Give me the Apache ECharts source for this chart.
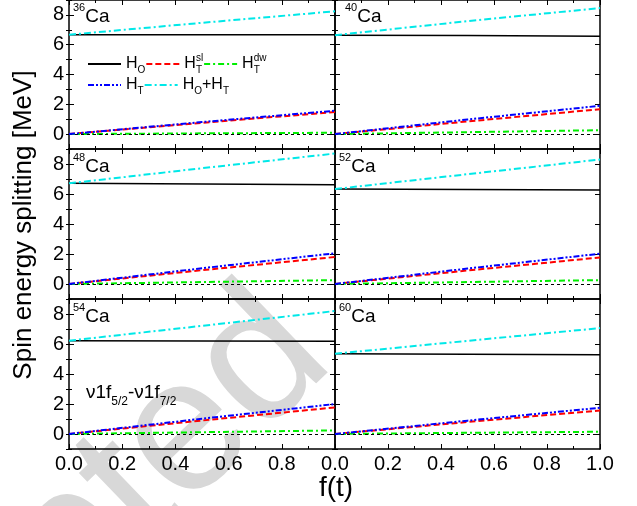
<!DOCTYPE html>
<html>
<head>
<meta charset="utf-8">
<script src="https://cdn.jsdelivr.net/npm/echarts@6/dist/echarts.min.js"></script>
<style>
  html, body { margin: 0; padding: 0; background: #fff; }
  #chart { width: 637px; height: 506px; }
</style>
</head>
<body>
<div id="chart"></div>
<script>
// f(t) sample points shared by every curve
const fValues = [0, 0.5, 1.0];

// nuclei, one per panel (left-to-right, top-to-bottom)
const nuclei = ['36', '40', '48', '52', '54', '60'];

// spin energy splitting [MeV] for each panel, sampled at fValues
const hO = [
  [6.67, 6.67, 6.66],
  [6.64, 6.61, 6.57],
  [6.71, 6.67, 6.62],
  [6.33, 6.30, 6.27],
  [6.22, 6.20, 6.18],
  [5.35, 5.32, 5.29]
];
const hTsl = [
  [0, 0.76, 1.48],
  [0, 0.85, 1.67],
  [0, 0.92, 1.80],
  [0, 0.90, 1.77],
  [0, 0.90, 1.77],
  [0, 0.80, 1.57]
];
const hTdw = [
  [0, 0.05, 0.09],
  [0, 0.13, 0.26],
  [0, 0.13, 0.26],
  [0, 0.13, 0.26],
  [0, 0.12, 0.24],
  [0, 0.08, 0.15]
];
const hT = [
  [0, 0.81, 1.57],
  [0, 0.98, 1.90],
  [0, 1.05, 2.05],
  [0, 1.03, 2.02],
  [0, 1.02, 2.00],
  [0, 0.89, 1.75]
];
const hOplusT = [
  [6.67, 7.47, 8.24],
  [6.64, 7.58, 8.46],
  [6.71, 7.72, 8.70],
  [6.33, 7.32, 8.30],
  [6.22, 7.21, 8.20],
  [5.35, 6.21, 7.06]
];

// axis ticks
const yMajorTicks = [0, 2, 4, 6, 8];

const FONT = '"Liberation Sans", Arial, Helvetica, sans-serif';
const BLACK = '#000';

// panel geometry
const colLeft = [69, 335];
const colWidth = [266, 265];
const rowTop = [-1, 149, 299];
const rowHeight = 150;

// curve styles
const curves = [
  { name: 'HO',   data: hO,      color: '#000000', width: 1.5, dash: 'solid' },
  { name: 'HTsl', data: hTsl,    color: '#ff0000', width: 2,   dash: [6, 3] },
  { name: 'HTdw', data: hTdw,    color: '#00ee00', width: 2,   dash: [6, 3, 2, 3] },
  { name: 'HT',   data: hT,      color: '#0000ff', width: 2,   dash: [6, 2, 2, 2, 2, 2] },
  { name: 'HOHT', data: hOplusT, color: '#00e8e8', width: 2,   dash: [7, 3, 2, 3] }
];

const grids = [], xAxes = [], yAxes = [], series = [], graphics = [];

nuclei.forEach((nuc, i) => {
  const row = Math.floor(i / 2), col = i % 2;
  grids.push({ left: colLeft[col], top: rowTop[row], width: colWidth[col], height: rowHeight });

  const axisLine = { onZero: false, lineStyle: { color: BLACK, width: 1.5 } };
  const xBase = {
    gridIndex: i, type: 'value', min: 0, max: 1, interval: 0.2,
    splitLine: { show: false },
    axisLine: axisLine,
    axisTick: { inside: true, length: 5, lineStyle: { color: BLACK, width: 1 } },
    minorTick: { show: true, splitNumber: 2, length: 3, lineStyle: { color: BLACK, width: 1 } },
    minorSplitLine: { show: false }
  };
  xAxes.push(Object.assign({}, xBase, {
    position: 'bottom',
    axisLabel: {
      show: row === 2, fontSize: 20, color: BLACK, fontFamily: FONT, margin: 5,
      showMaxLabel: col === 1,
      formatter: v => v.toFixed(1)
    }
  }));
  xAxes.push(Object.assign({}, xBase, { position: 'top', axisLabel: { show: false } }));

  const yMajor = (pos, labels) => ({
    gridIndex: i, type: 'value', min: -1, max: 9, position: pos,
    splitLine: { show: false },
    axisLine: axisLine,
    axisTick: { inside: true, length: 5, customValues: yMajorTicks, lineStyle: { color: BLACK, width: 1 } },
    axisLabel: { show: labels, customValues: yMajorTicks, fontSize: 20, color: BLACK, fontFamily: FONT, margin: 5 }
  });
  const yMinor = pos => ({
    gridIndex: i, type: 'value', min: -1, max: 9, interval: 1, position: pos,
    splitLine: { show: false },
    axisLine: { show: false },
    axisTick: { inside: true, length: 3, lineStyle: { color: BLACK, width: 1 } },
    axisLabel: { show: false }
  });
  const yBase = yAxes.length;
  yAxes.push(yMajor('left', col === 0), yMinor('left'), yMajor('right', false), yMinor('right'));

  curves.forEach((c, k) => {
    const s = {
      name: c.name, type: 'line', xAxisIndex: 2 * i, yAxisIndex: yBase,
      data: fValues.map((f, j) => [f, c.data[i][j]]),
      showSymbol: false, symbol: 'none', silent: true, animation: false,
      lineStyle: { color: c.color, width: c.width, type: c.dash },
      itemStyle: { color: c.color },
      z: 2 + k
    };
    if (k === 0) {
      // dashed reference line at zero
      s.markLine = {
        silent: true, symbol: 'none', animation: false,
        label: { show: false },
        lineStyle: { color: BLACK, width: 1, type: [3, 3] },
        data: [{ yAxis: 0 }]
      };
    }
    series.push(s);
  });

  // nucleus label
  const dx = (i === 1) ? 10 : 4;
  graphics.push({
    type: 'text', left: colLeft[col] + dx, top: rowTop[row] + 3, z: 20,
    style: {
      text: '{sup|' + nuc + '}{m|Ca}',
      rich: {
        sup: { fontSize: 11, fontFamily: FONT, fill: BLACK, lineHeight: 12, verticalAlign: 'top' },
        m: { fontSize: 19, fontFamily: FONT, fill: BLACK, lineHeight: 30 }
      }
    }
  });
});

// orbital pair label
graphics.push({
  type: 'text', left: 86, top: 383, z: 20,
  style: {
    text: '{m|ν1f}{s|5/2}{m|-ν1f}{s|7/2}',
    rich: {
      m: { fontSize: 19, fontFamily: FONT, fill: BLACK, lineHeight: 30 },
      s: { fontSize: 12, fontFamily: FONT, fill: BLACK, lineHeight: 12, verticalAlign: 'bottom' }
    }
  }
});

// axis titles
graphics.push({
  type: 'text', x: 24, y: 225, rotation: Math.PI / 2, z: 20,
  style: { text: 'Spin energy splitting [MeV]', font: '26px ' + FONT, fill: BLACK, align: 'center', verticalAlign: 'middle' }
});
graphics.push({
  type: 'text', x: 336, y: 488, z: 20,
  style: { text: 'f(t)', font: '28px ' + FONT, fill: BLACK, align: 'center', verticalAlign: 'middle' }
});

// manuscript stamp
graphics.push({
  type: 'text', x: 300, y: 326, rotation: 44 * Math.PI / 180, z: -10,
  style: { text: 'Accepted', font: '190px ' + FONT, fill: '#d8d8d8', align: 'right', verticalAlign: 'middle' }
});

const legendRich = {
  h: { fontSize: 16, fontFamily: FONT, color: BLACK, lineHeight: 22, verticalAlign: 'middle' },
  sub: { fontSize: 10, fontFamily: FONT, color: BLACK, lineHeight: 10, verticalAlign: 'bottom' },
  subz: { fontSize: 10, fontFamily: FONT, color: BLACK, lineHeight: 10, verticalAlign: 'bottom', width: 0, align: 'left' },
  sup: { fontSize: 10, fontFamily: FONT, color: BLACK, lineHeight: 10, verticalAlign: 'top' }
};
const legendText = {
  HO: '{h|H}{sub|O}',
  HTsl: '{h|H}{subz|T}{sup|sl}',
  HTdw: '{h|H}{subz|T}{sup|dw}',
  HT: '{h|H}{sub|T}',
  HOHT: '{h|H}{sub|O}{h|+H}{sub|T}'
};
const legendBase = {
  orient: 'horizontal', itemWidth: 33, itemHeight: 12, itemGap: 0,
  selectedMode: false, padding: 0,
  itemStyle: { opacity: 0 },
  formatter: n => legendText[n],
  textStyle: { rich: legendRich, color: BLACK }
};

const chart = echarts.init(document.getElementById('chart'), null, { renderer: 'canvas' });
chart.setOption({
  animation: false,
  backgroundColor: '#fff',
  grid: grids,
  xAxis: xAxes,
  yAxis: yAxes,
  legend: [
    Object.assign({}, legendBase, { left: 87, top: 53, data: ['HO', 'HTsl', 'HTdw'] }),
    Object.assign({}, legendBase, { left: 87, top: 77, data: ['HT', 'HOHT'] })
  ],
  graphic: graphics,
  series: series
});
</script>
</body>
</html>
